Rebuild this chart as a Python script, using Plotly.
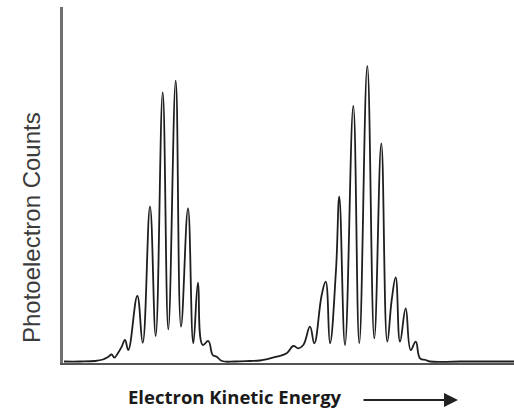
import plotly.graph_objects as go

# Traced spectrum (arbitrary energy units, arbitrary counts)
energy = [1, 17, 32, 40, 45, 48.7, 51.3, 55, 58.7, 62, 65.3, 74.3, 79.7, 87, 92.7,
          99.7, 105.3, 112.7, 118, 125, 130.3, 135, 139.7, 145.3, 149.7, 153.7, 159,
          172, 187, 197,
          213.7, 223.7, 230.3, 235.3, 240.3, 247, 251.3, 258.7, 262.7, 267, 273, 276.3,
          282, 290.3, 296.3, 304.3, 311.3, 318.3, 324.3, 328.7, 332.7, 337, 342.7,
          347.7, 352.7, 357, 362.7, 367, 397, 451]
counts = [0, 0, 0.5, 2, 4.5, 7, 3.8, 8.5, 14.8, 21.5, 11.5, 65.5, 18.8, 154.8, 25.5,
          269.2, 32.2, 280.8, 34.8, 153.2, 18.2, 78.8, 16.5, 20.5, 6.5, 4.8, 0.5,
          0, 0.5, 1,
          4.8, 8.2, 15.5, 13.2, 16.5, 34.8, 18.2, 66.5, 79.8, 18.2, 91.5, 164.8,
          16.5, 255.5, 18.2, 295.5, 23.2, 218.2, 19.8, 61.5, 84.2, 19.8, 53.2,
          11.5, 19.8, 3.2, 1.5, 0, 0, 0]

x_title = "Electron Kinetic Energy"
y_title = "Photoelectron Counts"

fig = go.Figure()
fig.add_trace(go.Scatter(
    x=energy, y=counts, mode="lines",
    line=dict(color="#1e1e1e", width=1.8, shape="spline", smoothing=1.2),
    hoverinfo="skip", showlegend=False,
))

fig.update_layout(
    width=514, height=408,
    margin=dict(l=63, r=0, t=7, b=45),
    paper_bgcolor="white", plot_bgcolor="white",
    xaxis=dict(range=[0, 451], showline=True, linecolor="#555555", linewidth=2,
               showgrid=False, zeroline=False, showticklabels=False, ticks=""),
    yaxis=dict(range=[-1.5, 354.5], showline=True, linecolor="#707070", linewidth=2.5,
               showgrid=False, zeroline=False, showticklabels=False, ticks=""),
    annotations=[
        dict(text=y_title, xref="paper", yref="paper", x=0, y=0.379,
             xanchor="center", yanchor="middle", xshift=-32, textangle=-90,
             showarrow=False,
             font=dict(family="Liberation Sans, Arial", size=24, color="#3c3c3c")),
        dict(text="<b>" + x_title + "</b>", xref="paper", yref="paper",
             x=(126 - 63) / 451, y=-0.0927, xanchor="left", yanchor="middle",
             showarrow=False,
             font=dict(family="Open Sans", size=18.5, color="#1a1a1a")),
        dict(text="", xref="paper", yref="paper", x=(458 - 63) / 451, y=-0.1039,
             ax=-96, ay=0, showarrow=True, arrowhead=2, arrowsize=1.4,
             arrowwidth=2, arrowcolor="#222222"),
    ],
)

fig.write_html("out.html")
